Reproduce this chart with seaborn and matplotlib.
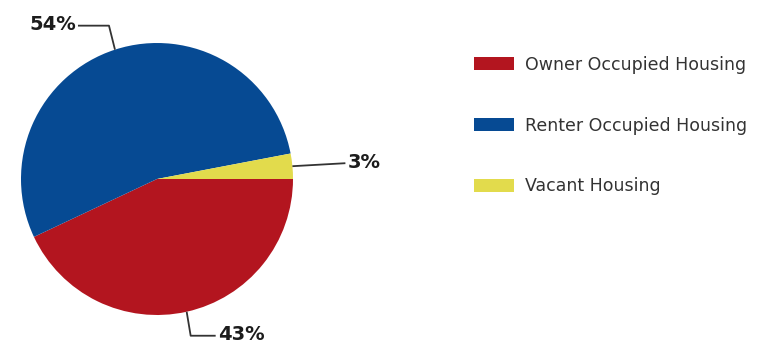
import numpy as np
import matplotlib
matplotlib.use("Agg")
import matplotlib.pyplot as plt
import seaborn as sns
from matplotlib.patches import Patch

categories = ["Owner Occupied Housing", "Renter Occupied Housing", "Vacant Housing"]
values = [43, 54, 3]
labels = ["43%", "54%", "3%"]
colors = ["#B3151F", "#064A93", "#E2DB4C"]

sns.set_theme(style="white")
plt.rcParams['font.family'] = ['DejaVu Sans']

W, H = 780, 343
fig = plt.figure(figsize=(W / 100, H / 100), dpi=100)
ax = fig.add_axes([0, 0, 1, 1])

cx, cy, r = 157, H - 179, 136
wedges, _ = ax.pie(values, colors=sns.color_palette(colors), startangle=0,
                   counterclock=False, center=(cx, cy), radius=r,
                   wedgeprops=dict(linewidth=0), frame=True)
ax.set_xlim(0, W)
ax.set_ylim(0, H)
ax.set_aspect("equal")
ax.axis("off")

# leader-line layout per label: (elbow offset, end offset, text ha)
layout = {
    "54%": ((-6, 24), (-37, 24), "right"),
    "3%": ((53, 3), (53, 3), "left"),
    "43%": ((4, -24), (29, -24), "left"),
}
for w, lab in zip(wedges, labels):
    ang = np.deg2rad((w.theta1 + w.theta2) / 2)
    ex, ey = cx + r * np.cos(ang), cy + r * np.sin(ang)
    (dx1, dy1), (dx2, dy2), ha = layout[lab]
    ax.plot([ex, ex + dx1, ex + dx2], [ey, ey + dy1, ey + dy2],
            color="#333333", lw=1.3, solid_capstyle="butt")
    tx = ex + dx2 + (2 if ha == "left" else -2)
    ax.text(tx, ey + dy2 + 1, lab, ha=ha, va="center", fontsize=14,
            fontweight="bold", color="#1c1c1c")

handles = [Patch(facecolor=c, edgecolor="none") for c in colors]
leg = fig.legend(handles, categories, loc="upper left",
                 bbox_to_anchor=(465 / W, 1 - 47 / H), frameon=False,
                 fontsize=12.5, handlelength=2.3, handleheight=0.75,
                 handletextpad=0.65, labelspacing=2.47, borderpad=0)
for t in leg.get_texts():
    t.set_color("#333333")

fig.savefig("out.png", dpi=100)
